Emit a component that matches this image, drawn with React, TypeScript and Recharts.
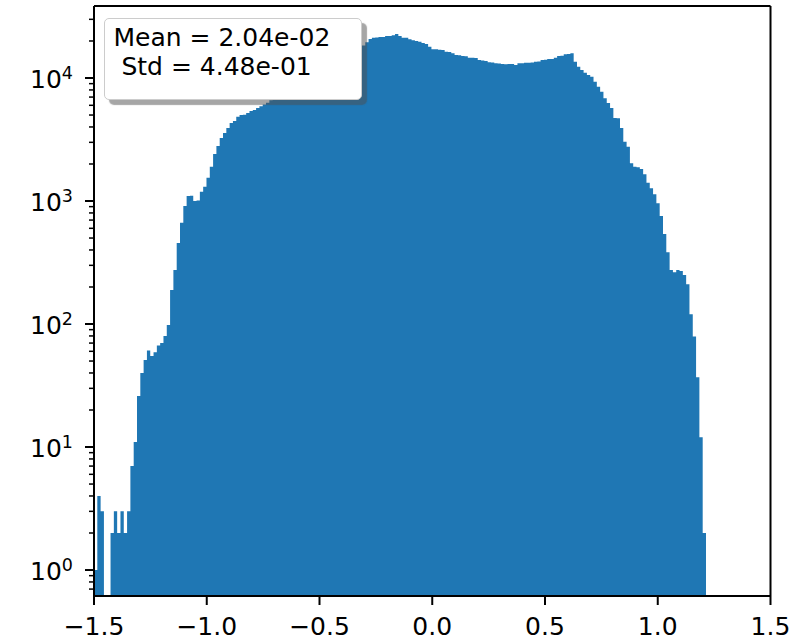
import { Area, ComposedChart, ReferenceLine, XAxis, YAxis } from "recharts";

// histogram bins: left edge of the first bin and the bin width
const BIN_START = -1.5;
const BIN_WIDTH = 0.01467;

// counts per bin (log scale)
const counts = [
  1, 4, 3, 0, 0, 2, 3, 2, 3, 2,
  3, 7, 11, 26, 40, 51, 61, 55, 59, 67,
  70, 80, 98, 189, 275, 456, 667, 910, 1100, 1105,
  1000, 1010, 1190, 1307, 1548, 1900, 2410, 2800, 3250, 3570,
  3920, 4300, 4470, 4845, 5000, 5020, 5190, 5390, 5500, 5700,
  5900, 6100, 6300, 6600, 6800, 7100, 7300, 7600, 7900, 8200,
  8500, 8800, 9100, 9500, 9800, 10200, 10600, 11000, 11400, 11800,
  12200, 12700, 13100, 13600, 14100, 14600, 15200, 15800, 16400, 17000,
  17700, 18400, 19500, 20800, 21200, 21300, 21500, 21600, 22000, 22000,
  22300, 22800, 21950, 21260, 21200, 20640, 20300, 20000, 19730, 19300,
  18900, 17960, 17100, 17100, 17000, 16890, 16360, 16300, 15880, 15380,
  15300, 15100, 15000, 14630, 14600, 14550, 14000, 13900, 13740, 13420,
  13400, 13170, 13150, 13000, 12950, 13000, 12980, 12760, 13170, 13200,
  13300, 13300, 13350, 13580, 13600, 14000, 14050, 14280, 14300, 14630,
  15100, 15150, 15600, 15650, 15880, 13580, 12360, 11610, 11040, 10600,
  10250, 9330, 8490, 7740, 6840, 6260, 5700, 4730, 4700, 3920,
  3030, 2760, 2025, 1900, 1880, 1820, 1650, 1408, 1268, 1133,
  958, 755, 539, 383, 275, 263, 275, 270, 250, 211,
  120, 79, 37, 12, 2,
];

const xDomain = [-1.5, 1.5];
const xTicks = [-1.5, -1.0, -0.5, 0, 0.5, 1.0, 1.5];
const yTicks = [
  0.7, 0.8, 0.9, 1,
  2, 3, 4, 5, 6, 7, 8, 9, 10,
  20, 30, 40, 50, 60, 70, 80, 90, 100,
  200, 300, 400, 500, 600, 700, 800, 900, 1000,
  2000, 3000, 4000, 5000, 6000, 7000, 8000, 9000, 10000,
  20000, 30000,
];
const yDomain = [0.615, 38500];
const statLines = ["Mean = 2.04e-02", " Std = 4.48e-01"];

const FONT = "DejaVu Sans";
const BLUE = "#1f77b4";
const EMPTY = 0.01; // empty bins sit below the visible range

const data = counts.map((c, i) => ({
  x: BIN_START + i * BIN_WIDTH,
  count: c > 0 ? c : EMPTY,
}));
data.push({
  x: BIN_START + counts.length * BIN_WIDTH,
  count: counts[counts.length - 1],
});

const TICK_LEN = 9;
const TICK_PAD = 12;

function LogTick(props: any) {
  const { x, y, payload } = props;
  const v = payload.value as number;
  const axisX = x + TICK_LEN + TICK_PAD;
  const exp = Math.log10(v);
  const major = Math.abs(exp - Math.round(exp)) < 1e-9;
  return (
    <g>
      <line
        x1={axisX - (major ? TICK_LEN : 5)}
        x2={axisX}
        y1={y}
        y2={y}
        stroke="#000"
        strokeWidth={major ? 2 : 1.5}
      />
      {major && (
        <text
          x={x}
          y={y + 10}
          textAnchor="end"
          fontFamily={FONT}
          fontSize={25}
          fill="#000"
        >
          10
          <tspan dy={-9} fontSize={17.5}>
            {Math.round(exp)}
          </tspan>
        </text>
      )}
    </g>
  );
}

export default function App() {
  return (
    <div
      style={{
        position: "absolute",
        left: 0,
        top: 0,
        width: 792,
        height: 642,
        background: "#fff",
      }}
    >
      <ComposedChart
        width={792}
        height={642}
        data={data}
        margin={{ top: 6, right: 21.5, bottom: 0, left: 0 }}
      >
        <XAxis
          dataKey="x"
          type="number"
          domain={xDomain}
          allowDataOverflow
          ticks={xTicks}
          interval={0}
          height={46}
          tickSize={TICK_LEN}
          tickMargin={TICK_PAD}
          tickFormatter={(v: number) => v.toFixed(1).replace("-", "\u2212")}
          tick={{ fill: "#000", fontSize: 25, fontFamily: FONT }}
          tickLine={{ stroke: "#000", strokeWidth: 2 }}
          axisLine={{ stroke: "#000", strokeWidth: 2 }}
        />
        <YAxis
          scale="log"
          type="number"
          domain={yDomain}
          allowDataOverflow
          ticks={yTicks}
          interval={0}
          width={94}
          tickSize={TICK_LEN}
          tickMargin={TICK_PAD}
          tickLine={false}
          tick={(p: any) => <LogTick {...p} />}
          axisLine={{ stroke: "#000", strokeWidth: 2 }}
        />
        <Area
          dataKey="count"
          type="stepAfter"
          baseValue={yDomain[0]}
          fill={BLUE}
          fillOpacity={1}
          stroke="none"
          isAnimationActive={false}
        />
        {/* top and right spines */}
        <ReferenceLine y={yDomain[1]} stroke="#000" strokeWidth={2} />
        <ReferenceLine x={xDomain[1]} stroke="#000" strokeWidth={2} />
      </ComposedChart>
      <div
        style={{
          position: "absolute",
          left: 104,
          top: 18,
          width: 258,
          height: 82,
          background: "#fff",
          border: "1px solid #cccccc",
          borderRadius: 5,
          boxShadow: "5px 5px 1px rgba(77,77,77,0.5)",
          fontFamily: FONT,
          fontSize: 25,
          lineHeight: "29.3px",
          color: "#000",
          paddingTop: 4,
          paddingLeft: 8.5,
          boxSizing: "border-box",
          whiteSpace: "pre",
        }}
      >
        {statLines.map((line) => (
          <div key={line}>{line}</div>
        ))}
      </div>
    </div>
  );
}
